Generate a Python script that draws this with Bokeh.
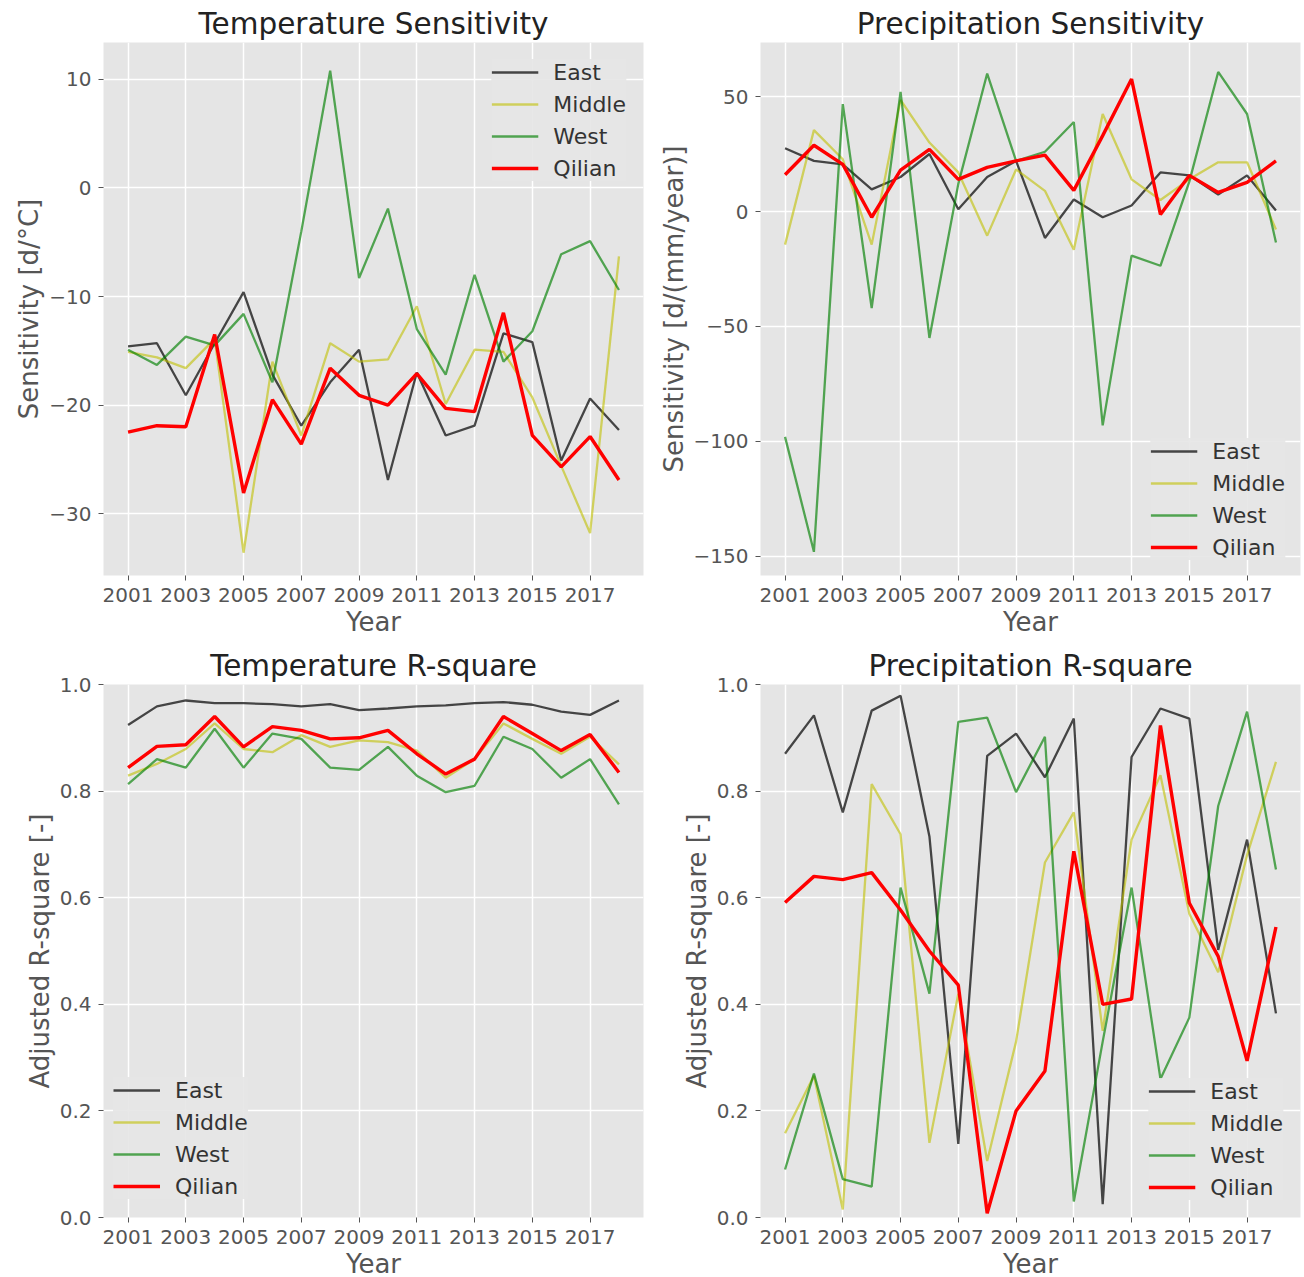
from bokeh.plotting import figure
from bokeh.layouts import column, row
from bokeh.models import FixedTicker, Legend, LegendItem
from bokeh.embed import file_html
from bokeh.resources import INLINE

years = list(range(2001, 2019))
x_ticks = [2001, 2003, 2005, 2007, 2009, 2011, 2013, 2015, 2017]
regions = ["East", "Middle", "West", "Qilian"]

# Temperature sensitivity [d/°C]
temp_sens_east = [-14.6, -14.3, -19.1, -14.3, -9.6, -17.2, -21.9, -17.9, -14.9, -26.9, -17.0, -22.8, -21.9, -13.4, -14.2, -25.1, -19.4, -22.3]
temp_sens_middle = [-15.1, -15.6, -16.6, -13.9, -33.6, -16.0, -22.8, -14.3, -16.0, -15.8, -10.9, -19.9, -14.9, -15.1, -19.3, -25.6, -31.8, -6.3]
temp_sens_west = [-14.9, -16.3, -13.7, -14.5, -11.6, -17.9, -4.0, 10.8, -8.3, -1.9, -13.0, -17.2, -8.0, -16.0, -13.2, -6.1, -4.9, -9.4]
temp_sens_qilian = [-22.5, -21.9, -22.0, -13.5, -28.1, -19.5, -23.6, -16.6, -19.1, -20.0, -17.1, -20.3, -20.6, -11.5, -22.8, -25.7, -22.9, -26.9]

# Precipitation sensitivity [d/(mm/year)]
prec_sens_east = [27.5, 22.0, 20.5, 9.6, 15.0, 25.0, 1.0, 15.0, 22.0, -11.5, 5.2, -2.5, 2.6, 17.0, 15.7, 7.4, 15.7, 0.4]
prec_sens_middle = [-14.4, 35.4, 22.7, -14.4, 48.5, 30.0, 17.0, -10.5, 18.3, 9.0, -16.6, 42.4, 14.0, 5.0, 14.0, 21.4, 21.4, -7.8]
prec_sens_west = [-98.0, -148.0, 46.7, -42.0, 52.0, -55.0, 12.0, 60.0, 22.0, 26.0, 38.9, -93.0, -19.2, -23.6, 13.0, 60.7, 42.4, -13.5]
prec_sens_qilian = [16.0, 28.8, 20.5, -2.5, 18.0, 27.0, 14.0, 19.2, 22.0, 24.5, 9.2, 33.0, 57.6, -1.3, 15.7, 8.3, 12.7, 22.0]

# Temperature adjusted R-square
temp_r2_east = [0.924, 0.959, 0.970, 0.965, 0.965, 0.963, 0.959, 0.963, 0.952, 0.955, 0.959, 0.961, 0.965, 0.967, 0.962, 0.949, 0.943, 0.970]
temp_r2_middle = [0.829, 0.851, 0.879, 0.927, 0.879, 0.873, 0.905, 0.883, 0.895, 0.892, 0.876, 0.825, 0.860, 0.927, 0.898, 0.870, 0.902, 0.850]
temp_r2_west = [0.813, 0.860, 0.844, 0.917, 0.844, 0.908, 0.898, 0.844, 0.840, 0.883, 0.829, 0.798, 0.810, 0.902, 0.879, 0.825, 0.860, 0.775]
temp_r2_qilian = [0.844, 0.884, 0.887, 0.940, 0.883, 0.921, 0.914, 0.898, 0.900, 0.914, 0.870, 0.832, 0.860, 0.940, 0.908, 0.876, 0.906, 0.835]

# Precipitation adjusted R-square
prec_r2_east = [0.870, 0.942, 0.760, 0.951, 0.979, 0.715, 0.138, 0.866, 0.908, 0.826, 0.936, 0.025, 0.864, 0.955, 0.936, 0.502, 0.709, 0.383]
prec_r2_middle = [0.158, 0.266, 0.015, 0.813, 0.719, 0.140, 0.420, 0.106, 0.330, 0.666, 0.760, 0.350, 0.709, 0.830, 0.570, 0.460, 0.680, 0.855]
prec_r2_west = [0.090, 0.270, 0.072, 0.058, 0.619, 0.420, 0.930, 0.938, 0.798, 0.902, 0.030, 0.330, 0.619, 0.260, 0.375, 0.772, 0.949, 0.653]
prec_r2_qilian = [0.591, 0.640, 0.634, 0.647, 0.577, 0.500, 0.436, 0.008, 0.200, 0.275, 0.687, 0.400, 0.410, 0.923, 0.590, 0.490, 0.294, 0.545]

STYLES = {
    "East": dict(color="#000000", alpha=0.7, width=2.3),
    "Middle": dict(color="#BFBF00", alpha=0.6, width=2.3),
    "West": dict(color="#008000", alpha=0.65, width=2.3),
    "Qilian": dict(color="#FF0000", alpha=1.0, width=3.4),
}

FONT = "DejaVu Sans"
GREY_TXT = "#555555"


def make_panel(title, ylabel, series, y_range, y_ticks, legend_loc, legend_margin,
               left, right, top, bottom, fw, fh, fmt_r2=False):
    p = figure(
        output_backend="svg", toolbar_location=None,
        x_range=(2000.15, 2018.85), y_range=y_range,
        frame_width=fw, frame_height=fh,
        min_border_left=left, min_border_right=right,
        min_border_top=top, min_border_bottom=bottom,
        background_fill_color="#E5E5E5", border_fill_color="white",
        outline_line_color=None,
    )
    p.title.text = title
    p.title.align = "center"
    p.title.text_font = FONT
    p.title.text_font_size = "29.5px"
    p.title.text_font_style = "normal"
    p.title.text_color = "#222222"
    p.title.standoff = 3

    for ax in (p.xaxis[0], p.yaxis[0]):
        ax.axis_line_color = None
        ax.major_tick_line_color = GREY_TXT
        ax.major_tick_out = 5
        ax.major_tick_in = 0
        ax.minor_tick_line_color = None
        ax.major_label_text_font = FONT
        ax.major_label_text_font_size = "20px"
        ax.major_label_text_color = GREY_TXT
        ax.axis_label_text_font = FONT
        ax.axis_label_text_font_size = "26px"
        ax.axis_label_text_font_style = "normal"
        ax.axis_label_text_color = GREY_TXT
        ax.major_label_standoff = 7
        ax.axis_label_standoff = 2

    p.xaxis.ticker = FixedTicker(ticks=x_ticks)
    p.yaxis.ticker = FixedTicker(ticks=y_ticks)
    if fmt_r2:
        p.yaxis.major_label_overrides = {t: f"{t:.1f}" for t in y_ticks}
    p.xaxis.axis_label = "Year"
    p.yaxis.axis_label = ylabel

    p.grid.grid_line_color = "white"
    p.grid.grid_line_width = 1.5

    items = []
    for name, vals in zip(regions, series):
        st = STYLES[name]
        r = p.line(years, vals, line_color=st["color"], line_alpha=st["alpha"],
                   line_width=st["width"])
        items.append(LegendItem(label=name, renderers=[r]))

    legend = Legend(items=items, location=legend_loc)
    legend.background_fill_color = "#E5E5E5"
    legend.background_fill_alpha = 0.9
    legend.border_line_color = None
    legend.label_text_font = FONT
    legend.label_text_font_size = "22px"
    legend.label_text_color = "#333333"
    legend.glyph_width = 47
    legend.glyph_height = 26
    legend.label_height = 26
    legend.spacing = 6
    legend.label_standoff = 15
    legend.margin = legend_margin
    legend.padding = 9
    p.add_layout(legend)
    return p


p1 = make_panel("Temperature Sensitivity", "Sensitivity [d/°C]",
                [temp_sens_east, temp_sens_middle, temp_sens_west, temp_sens_qilian],
                (-35.7, 13.4), [-30, -20, -10, 0, 10], "top_right", 17,
                103, 7, 42, 65, 540, 533)
p2 = make_panel("Precipitation Sensitivity", "Sensitivity [d/(mm/year)]",
                [prec_sens_east, prec_sens_middle, prec_sens_west, prec_sens_qilian],
                (-158.3, 73.5), [-150, -100, -50, 0, 50], "bottom_right", 15,
                110, 4, 42, 65, 540, 533)
p3 = make_panel("Temperature R-square", "Adjusted R-square [-]",
                [temp_r2_east, temp_r2_middle, temp_r2_west, temp_r2_qilian],
                (0, 1), [0.0, 0.2, 0.4, 0.6, 0.8, 1.0], (10, 18), 0,
                103, 7, 44, 60, 540, 533, fmt_r2=True)
p4 = make_panel("Precipitation R-square", "Adjusted R-square [-]",
                [prec_r2_east, prec_r2_middle, prec_r2_west, prec_r2_qilian],
                (0, 1), [0.0, 0.2, 0.4, 0.6, 0.8, 1.0], "bottom_right", 17,
                110, 4, 44, 60, 540, 533, fmt_r2=True)

layout = column(row(p1, p2, spacing=0), row(p3, p4, spacing=0), spacing=0)

open("out.html", "w").write(file_html(layout, INLINE))
